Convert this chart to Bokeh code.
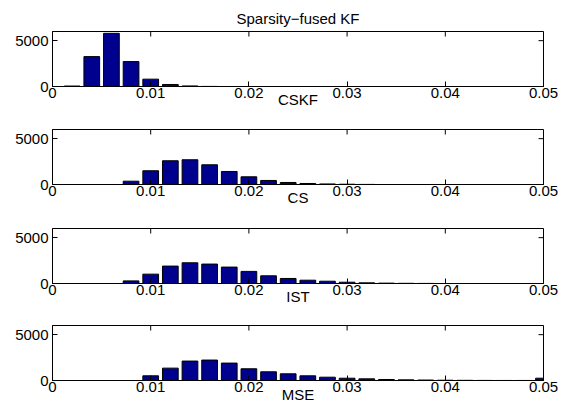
import math
from bokeh.plotting import figure
from bokeh.layouts import column
from bokeh.models import FixedTicker, Range1d
from bokeh.embed import file_html
from bokeh.resources import INLINE

# histogram bin centres (0 : 0.002 : 0.05)
bin_centers = [0.000, 0.002, 0.004, 0.006, 0.008, 0.010, 0.012, 0.014, 0.016,
               0.018, 0.020, 0.022, 0.024, 0.026, 0.028, 0.030, 0.032, 0.034,
               0.036, 0.038, 0.040, 0.042, 0.044, 0.046, 0.048, 0.050]

counts_panel1 = [0, 50, 3260, 5800, 2720, 800, 220, 60, 10, 0, 0, 0, 0,
                 0, 0, 0, 0, 0, 0, 0, 0, 0, 0, 0, 0, 0]
counts_panel2 = [0, 0, 0, 0, 360, 1500, 2590, 2700, 2150, 1420, 840, 440, 220,
                 110, 60, 30, 10, 0, 0, 0, 0, 0, 0, 0, 0, 0]
counts_panel3 = [0, 0, 0, 0, 285, 1020, 1900, 2260, 2120, 1790, 1320, 840, 550,
                 360, 250, 140, 70, 40, 20, 10, 0, 0, 0, 0, 0, 0]
counts_panel4 = [0, 0, 0, 0, 0, 510, 1350, 2120, 2230, 1900, 1280, 950, 730,
                 510, 360, 250, 180, 110, 70, 50, 30, 20, 10, 5, 5, 250]

main_title = "Sparsity\u2212fused KF"
panel_labels = ["CSKF", "CS", "IST", "MSE"]

x_ticks = [0, 0.01, 0.02, 0.03, 0.04, 0.05]
x_tick_labels = ["0", "0.01", "0.02", "0.03", "0.04", "0.05"]
y_ticks = [0, 5000]
y_tick_labels = ["0", "5000"]
x_min, x_max = 0, 0.05
y_min, y_max = 0, 6000

FONT = "Liberation Sans"
FS = "15px"
BAR_COLOR = "#00008F"


def style_axis(ax, ticks, labels, standoff):
    ax.ticker = FixedTicker(ticks=ticks)
    ax.major_label_overrides = {t: l for t, l in zip(ticks, labels)}
    ax.major_tick_in = 5
    ax.major_tick_out = 0
    ax.minor_tick_in = 0
    ax.minor_tick_out = 0
    ax.minor_tick_line_color = None
    ax.major_tick_line_color = "black"
    ax.axis_line_color = "black"
    ax.axis_line_width = 1
    ax.major_label_text_font = FONT
    ax.major_label_text_color = "black"
    ax.major_label_text_font_size = FS
    ax.major_label_standoff = standoff


def make_panel(counts, xlabel, height, top, bottom, title=None, label_standoff=-10):
    p = figure(width=566, height=height,
               x_range=Range1d(x_min, x_max), y_range=Range1d(y_min, y_max),
               output_backend="svg", toolbar_location=None,
               min_border_left=52, min_border_right=23,
               min_border_top=top, min_border_bottom=bottom)
    if title is not None:
        p.title.text = title
        p.title.align = "center"
        p.title.text_font = FONT
        p.title.text_font_size = FS
        p.title.text_font_style = "normal"
        p.title.text_color = "black"
        p.title.standoff = 10
    p.xgrid.visible = False
    p.ygrid.visible = False
    p.outline_line_color = "black"
    p.outline_line_width = 1
    p.background_fill_color = "white"
    p.border_fill_color = "white"

    p.vbar(x=bin_centers, top=counts, width=0.0016, bottom=0,
           fill_color=BAR_COLOR, line_color="black", line_width=1)

    # inward box ticks on the top and right edges (MATLAB style)
    p.ray(x=x_ticks, y=[y_max] * len(x_ticks), length=5, length_units="screen",
          angle=-math.pi / 2, line_color="black", line_width=1)
    p.ray(x=[x_max] * len(y_ticks), y=y_ticks, length=5, length_units="screen",
          angle=math.pi, line_color="black", line_width=1)

    style_axis(p.xaxis[0], x_ticks, x_tick_labels, 1)
    style_axis(p.yaxis[0], y_ticks, y_tick_labels, 4)
    xa = p.xaxis[0]
    xa.axis_label = xlabel
    xa.axis_label_text_font = FONT
    xa.axis_label_text_font_size = FS
    xa.axis_label_text_font_style = "normal"
    xa.axis_label_text_color = "black"
    xa.axis_label_standoff = label_standoff
    return p


p1 = make_panel(counts_panel1, panel_labels[0], 113, 31, 27, title=main_title)
p2 = make_panel(counts_panel2, panel_labels[1], 98, 16, 27)
p3 = make_panel(counts_panel3, panel_labels[2], 99, 17, 27)
p4 = make_panel(counts_panel4, panel_labels[3], 110, 15, 40, label_standoff=-9)

layout = column(p1, p2, p3, p4, spacing=0)
open("out.html", "w").write(file_html(layout, INLINE))
